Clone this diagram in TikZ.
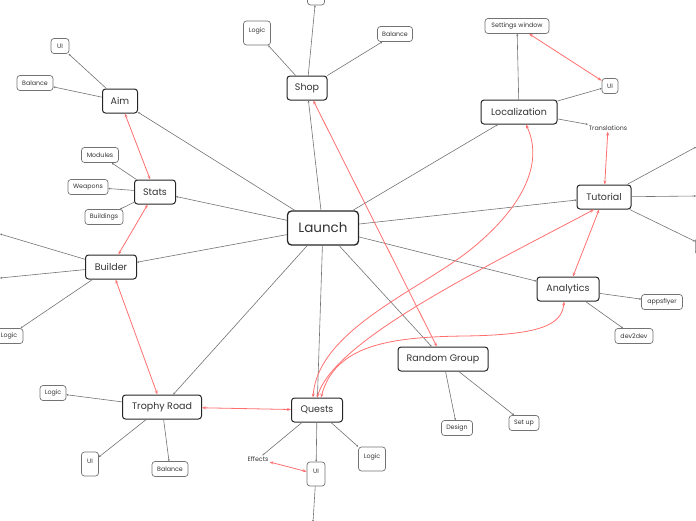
\documentclass[tikz,border=0pt]{standalone}
\usepackage{fontspec}
\setmainfont{Poppins}
\usetikzlibrary{arrows.meta}
\definecolor{redl}{HTML}{FF6F6F}
\definecolor{txt}{HTML}{333333}
\begin{document}
\begin{tikzpicture}[x=1pt,y=-1pt,
 big/.style={draw=black!85, line width=1.3pt, rounded corners=4pt, fill=white, minimum width=71pt, minimum height=34pt, inner sep=0pt, font=\fontsize{13.5}{14}\selectfont, text=txt},
 main/.style={draw=black!85, line width=1pt, rounded corners=3pt, fill=white, minimum height=24pt, inner sep=0pt, font=\fontsize{9.5}{10}\selectfont, text=txt},
 small/.style={draw=black!55, line width=0.7pt, rounded corners=3pt, fill=white, minimum height=15pt, inner sep=0pt, font=\fontsize{6.3}{7}\selectfont, text=txt},
 plain/.style={inner sep=1pt, font=\fontsize{6.3}{7}\selectfont, text=txt},
 con/.style={draw=black!55, line width=0.6pt, -{Stealth[length=2pt,width=2pt]}},
 rel/.style={draw=redl, line width=0.8pt, {Stealth[length=4pt,width=3pt]}-{Stealth[length=4pt,width=3pt]}},
]
\useasboundingbox (0,0) rectangle (696,520);
\node[big] (launch) at (323,228) {Launch};
\node[main,minimum width=40pt] (shop) at (307,88) {Shop};
\node[small,minimum width=17pt,minimum height=20pt] (shoptop) at (316,-5) {};
\node[small,minimum width=27pt,minimum height=24pt] (shoplogic) at (257,33) {\raisebox{5pt}{Logic}};
\node[small,minimum width=35pt] (shopbal) at (395,34) {Balance};
\node[main,minimum width=35pt] (aim) at (120,101) {Aim};
\node[small,minimum width=18pt] (aimui) at (60,46) {UI};
\node[small,minimum width=36pt] (aimbal) at (35,83) {Balance};
\node[main,minimum width=41pt] (stats) at (155,192) {Stats};
\node[small,minimum width=37pt] (modules) at (100,155) {Modules};
\node[small,minimum width=40pt] (weapons) at (88,187) {Weapons};
\node[small,minimum width=38pt] (buildings) at (104,217) {Buildings};
\node[main,minimum width=51pt] (builder) at (111,267) {Builder};
\node[small,minimum width=28pt] (buildlogic) at (9,336) {Logic};
\coordinate (bl1) at (0,234);
\coordinate (bl2) at (0,278);
\node[main,minimum width=79pt] (trophy) at (162,407) {Trophy Road};
\node[small,minimum width=26pt] (trlogic) at (53,393) {Logic};
\node[small,minimum width=17pt,minimum height=24pt] (trui) at (90,464) {\raisebox{5pt}{UI}};
\node[small,minimum width=36pt] (trbal) at (170,469) {Balance};
\node[main,minimum width=51pt] (quests) at (317,410) {Quests};
\node[plain] (effects) at (258,459) {Effects};
\node[small,minimum width=18pt,minimum height=24pt] (qui) at (316,474) {\raisebox{5pt}{UI}};
\coordinate (qbot) at (313,522);
\node[small,minimum width=27pt,minimum height=24pt] (qlogic) at (372,459) {\raisebox{5pt}{Logic}};
\node[main,minimum width=90pt] (random) at (443,359) {Random Group};
\node[small,minimum width=31pt] (design) at (457,428) {Design};
\node[small,minimum width=30pt] (setup) at (524,423) {Set up};
\node[main,minimum width=76pt] (loc) at (519,112) {Localization};
\node[small,minimum width=64pt] (settings) at (517,26) {Settings window};
\node[small,minimum width=16pt] (locui) at (610,86) {UI};
\node[plain] (transl) at (608,128) {Translations};
\node[main,minimum width=54pt] (tut) at (604,197) {Tutorial};
\coordinate (tr1) at (696,147);
\coordinate (tr2) at (696,196);
\node[small,anchor=north west,minimum width=20pt,minimum height=16pt] (tutbox) at (695,238) {};
\node[main,minimum width=62pt] (analytics) at (568,289) {Analytics};
\node[small,minimum width=41pt] (appsflyer) at (662,302) {appsflyer};
\node[small,minimum width=38pt] (dev2dev) at (634,336) {dev2dev};
% gray connectors
\draw[con] (launch) -- (shop);
\draw[con] (launch) -- (aim);
\draw[con] (launch) -- (stats);
\draw[con] (launch) -- (builder);
\draw[con] (launch) -- (trophy);
\draw[con] (launch) -- (quests);
\draw[con] (launch) -- (random);
\draw[con] (launch) -- (analytics);
\draw[con] (launch) -- (tut);
\draw[con] (launch) -- (loc);
\draw[con] (shop) -- (shoptop);
\draw[con] (shop) -- (shoplogic);
\draw[con] (shop) -- (shopbal);
\draw[con] (aim) -- (aimui);
\draw[con] (aim) -- (aimbal);
\draw[con] (stats) -- (modules);
\draw[con] (stats) -- (weapons);
\draw[con] (stats) -- (buildings);
\draw[con] (builder) -- (buildlogic);
\draw[con] (builder) -- (bl1);
\draw[con] (builder) -- (bl2);
\draw[con] (trophy) -- (trlogic);
\draw[con] (trophy) -- (trui);
\draw[con] (trophy) -- (trbal);
\draw[con] (quests) -- (effects);
\draw[con] (quests) -- (qui);
\draw[con] (quests) -- (qlogic);
\draw[con] (qui) -- (qbot);
\draw[con] (random) -- (design);
\draw[con] (random) -- (setup);
\draw[con] (loc) -- (settings);
\draw[con] (loc) -- (locui);
\draw[con] (loc) -- (transl);
\draw[con] (tut) -- (tr1);
\draw[con] (tut) -- (tr2);
\draw[con] (tut) -- (tutbox);
\draw[con] (analytics) -- (appsflyer);
\draw[con] (analytics) -- (dev2dev);
% red relations
\draw[rel] (aim) -- (stats);
\draw[rel] (stats) -- (builder);
\draw[rel] (builder) -- (trophy);
\draw[rel] (trophy) -- (quests);
\draw[rel] (shop) -- (random);
\draw[rel] (settings) -- (locui);
\draw[rel] (transl) -- (tut);
\draw[rel] (tut) -- (analytics);
\draw[rel] (effects) -- (qui);
\draw[rel] ([xshift=-4pt]quests.north) .. controls (318,330) and (420,290) .. (470,250) .. controls (520,210) and (545,165) .. ([xshift=7pt]loc.south);
\draw[rel] (quests.north) .. controls (335,340) and (480,270) .. ([xshift=-10pt]tut.south);
\draw[rel] ([xshift=4pt]quests.north) .. controls (335,345) and (390,337) .. (464,336) .. controls (540,335) and (562,325) .. ([xshift=-4pt]analytics.south);
\end{tikzpicture}
\end{document}
